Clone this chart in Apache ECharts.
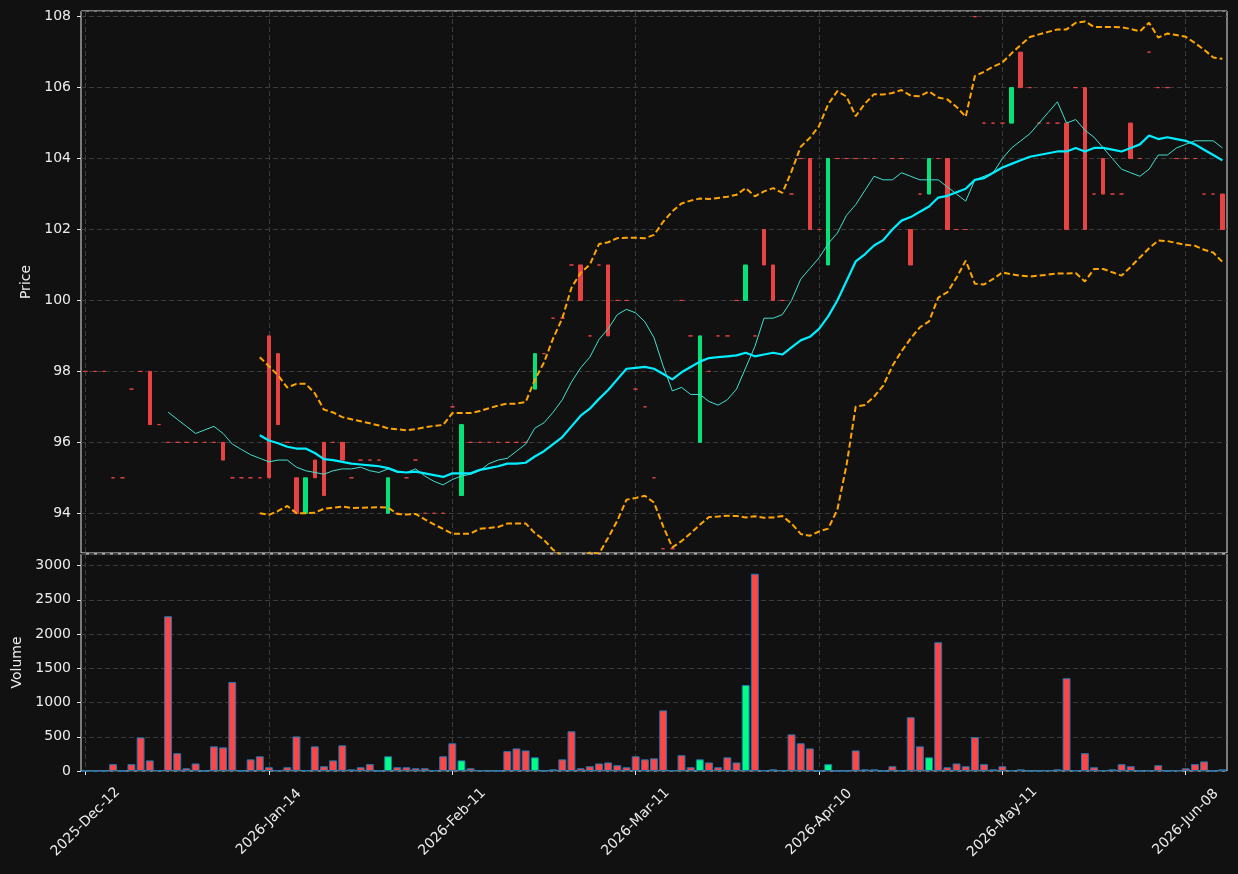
<!DOCTYPE html>
<html lang="en">
<head>
<meta charset="UTF-8">
<title>Price / Volume</title>
<script src="https://cdn.jsdelivr.net/npm/echarts@6.0.0/dist/echarts.min.js"></script>
<style>
  html, body { margin: 0; padding: 0; background: #111111; }
  #main { width: 1238px; height: 874px; }
</style>
</head>
<body>
<div id="main"></div>
<script>
// trading days (one per candle)
var dates = [
  '2025-Dec-12','2025-Dec-15','2025-Dec-16','2025-Dec-17','2025-Dec-18','2025-Dec-19','2025-Dec-22','2025-Dec-23','2025-Dec-24','2025-Dec-29',
  '2025-Dec-30','2025-Dec-31','2026-Jan-02','2026-Jan-05','2026-Jan-06','2026-Jan-07','2026-Jan-08','2026-Jan-09','2026-Jan-12','2026-Jan-13',
  '2026-Jan-14','2026-Jan-15','2026-Jan-16','2026-Jan-19','2026-Jan-20','2026-Jan-21','2026-Jan-22','2026-Jan-23','2026-Jan-26','2026-Jan-27',
  '2026-Jan-28','2026-Jan-29','2026-Jan-30','2026-Feb-02','2026-Feb-03','2026-Feb-04','2026-Feb-05','2026-Feb-06','2026-Feb-09','2026-Feb-10',
  '2026-Feb-11','2026-Feb-12','2026-Feb-13','2026-Feb-16','2026-Feb-17','2026-Feb-18','2026-Feb-19','2026-Feb-20','2026-Feb-23','2026-Feb-24',
  '2026-Feb-25','2026-Feb-26','2026-Feb-27','2026-Mar-02','2026-Mar-03','2026-Mar-04','2026-Mar-05','2026-Mar-06','2026-Mar-09','2026-Mar-10',
  '2026-Mar-11','2026-Mar-12','2026-Mar-13','2026-Mar-16','2026-Mar-17','2026-Mar-18','2026-Mar-19','2026-Mar-20','2026-Mar-23','2026-Mar-24',
  '2026-Mar-25','2026-Mar-26','2026-Mar-27','2026-Mar-30','2026-Mar-31','2026-Apr-01','2026-Apr-02','2026-Apr-07','2026-Apr-08','2026-Apr-09',
  '2026-Apr-10','2026-Apr-13','2026-Apr-14','2026-Apr-15','2026-Apr-16','2026-Apr-17','2026-Apr-20','2026-Apr-21','2026-Apr-22','2026-Apr-23',
  '2026-Apr-24','2026-Apr-27','2026-Apr-28','2026-Apr-29','2026-Apr-30','2026-May-04','2026-May-05','2026-May-06','2026-May-07','2026-May-08',
  '2026-May-11','2026-May-12','2026-May-13','2026-May-14','2026-May-15','2026-May-18','2026-May-19','2026-May-20','2026-May-21','2026-May-22',
  '2026-May-25','2026-May-26','2026-May-27','2026-May-28','2026-May-29','2026-Jun-01','2026-Jun-02','2026-Jun-03','2026-Jun-04','2026-Jun-05',
  '2026-Jun-08','2026-Jun-09','2026-Jun-10','2026-Jun-11','2026-Jun-12'
];

var opens = [
  98, 98, 98, 95, 95, 97.5, 98, 98, 96.5, 96,
  96, 96, 96, 96, 96, 96, 95, 95, 95, 95,
  99, 98.5, 96, 95, 94, 95.5, 96, 96, 96, 95,
  95.5, 95.5, 95.5, 94, 94, 95, 95.5, 94, 94, 94,
  97, 94.5, 96, 96, 96, 96, 96, 96, 96, 97.5,
  98.5, 99.5, 99.5, 101, 101, 99, 101, 101, 100, 100,
  97.5, 97, 95, 93, 93, 100, 99, 96, 98, 99,
  99, 100, 100, 99, 102, 101, 100, 103, 104, 104,
  102, 101, 104, 104, 104, 104, 104, 102, 104, 104,
  102, 103, 103, 104, 104, 102, 102, 108, 105, 105,
  105, 105, 107, 106, 105, 105, 105, 105, 106, 106,
  103, 104, 103, 103, 105, 104, 107, 106, 106, 104,
  104, 104, 103, 103, 103
];

var closes = [
  98, 98, 98, 95, 95, 97.5, 98, 96.5, 96.5, 96,
  96, 96, 96, 96, 96, 95.5, 95, 95, 95, 95,
  95, 96.5, 96, 94, 95, 95, 94.5, 96, 95.5, 95,
  95.5, 95.5, 95.5, 95, 94, 95, 95.5, 94, 94, 94,
  97, 96.5, 96, 96, 96, 96, 96, 96, 96, 98.5,
  98.5, 99.5, 99.5, 101, 100, 99, 101, 99, 100, 100,
  97.5, 97, 95, 93, 93, 100, 99, 99, 98, 99,
  99, 100, 101, 99, 101, 100, 100, 103, 104, 102,
  102, 104, 104, 104, 104, 104, 104, 102, 104, 104,
  101, 103, 104, 104, 102, 102, 102, 108, 105, 105,
  105, 106, 106, 106, 105, 105, 105, 102, 106, 102,
  103, 103, 103, 103, 104, 104, 107, 106, 106, 104,
  104, 104, 103, 103, 102
];

var volumes = [
  0, 0, 0, 100, 0, 100, 490, 155, 10, 2260,
  260, 40, 110, 0, 360, 345, 1300, 0, 170, 215,
  55, 10, 55, 505, 10, 360, 70, 155, 375, 25,
  55, 100, 0, 215, 55, 55, 40, 40, 10, 215,
  405, 155, 40, 10, 0, 0, 290, 330, 300, 200,
  0, 25, 170, 580, 40, 70, 110, 125, 85, 55,
  215, 170, 185, 885, 10, 230, 55, 170, 125, 55,
  200, 125, 1255, 2880, 10, 25, 10, 535, 405, 330,
  0, 100, 0, 0, 300, 25, 25, 0, 70, 10,
  785, 360, 200, 1880, 55, 110, 70, 495, 100, 25,
  70, 10, 25, 0, 0, 10, 25, 1355, 10, 260,
  55, 10, 25, 100, 70, 0, 10, 85, 0, 10,
  40, 100, 140, 0, 25
];

// 10-day average of the closes
var ma10 = [
  null, null, null, null, null, null, null, null, null, 96.85,
  96.65, 96.45, 96.25, 96.35, 96.45, 96.25, 95.95, 95.8, 95.65, 95.55,
  95.45, 95.5, 95.5, 95.3, 95.2, 95.15, 95.1, 95.2, 95.25, 95.25,
  95.3, 95.2, 95.15, 95.25, 95.15, 95.15, 95.25, 95.05, 94.9, 94.8,
  94.95, 95.05, 95.1, 95.2, 95.4, 95.5, 95.55, 95.75, 95.95, 96.4,
  96.55, 96.85, 97.2, 97.7, 98.1, 98.4, 98.9, 99.2, 99.6, 99.75,
  99.65, 99.4, 98.95, 98.15, 97.45, 97.55, 97.35, 97.35, 97.15, 97.05,
  97.2, 97.5, 98.1, 98.7, 99.5, 99.5, 99.6, 100.0, 100.6, 100.9,
  101.2, 101.6, 101.9, 102.4, 102.7, 103.1, 103.5, 103.4, 103.4, 103.6,
  103.5, 103.4, 103.4, 103.4, 103.2, 103.0, 102.8, 103.4, 103.5, 103.6,
  104.0, 104.3, 104.5, 104.7, 105.0, 105.3, 105.6, 105.0, 105.1, 104.8,
  104.6, 104.3, 104.0, 103.7, 103.6, 103.5, 103.7, 104.1, 104.1, 104.3,
  104.4, 104.5, 104.5, 104.5, 104.3
];

// 20-day average of the closes
var ma20 = [
  null, null, null, null, null, null, null, null, null, null,
  null, null, null, null, null, null, null, null, null, 96.2,
  96.05, 95.975, 95.875, 95.825, 95.825, 95.7, 95.525, 95.5, 95.45, 95.4,
  95.375, 95.35, 95.325, 95.275, 95.175, 95.15, 95.175, 95.125, 95.075, 95.025,
  95.125, 95.125, 95.125, 95.225, 95.275, 95.325, 95.4, 95.4, 95.425, 95.6,
  95.75, 95.95, 96.15, 96.45, 96.75, 96.95, 97.225, 97.475, 97.775, 98.075,
  98.1, 98.125, 98.075, 97.925, 97.775, 97.975, 98.125, 98.275, 98.375, 98.4,
  98.425, 98.45, 98.525, 98.425, 98.475, 98.525, 98.475, 98.675, 98.875, 98.975,
  99.2, 99.55, 100.0, 100.55, 101.1, 101.3, 101.55, 101.7, 102.0, 102.25,
  102.35, 102.5, 102.65, 102.9, 102.95, 103.05, 103.15, 103.4, 103.45, 103.6,
  103.75, 103.85, 103.95, 104.05, 104.1, 104.15, 104.2, 104.2, 104.3, 104.2,
  104.3, 104.3, 104.25, 104.2, 104.3, 104.4, 104.65, 104.55, 104.6, 104.55,
  104.5, 104.4, 104.25, 104.1, 103.95
];

// 20-day bands, two standard deviations
var bbUpper = [
  null, null, null, null, null, null, null, null, null, null,
  null, null, null, null, null, null, null, null, null, 98.4,
  98.145, 97.885, 97.545, 97.649, 97.649, 97.385, 96.921, 96.842, 96.711, 96.649,
  96.595, 96.537, 96.477, 96.392, 96.37, 96.337, 96.37, 96.424, 96.463, 96.49,
  96.824, 96.824, 96.824, 96.883, 96.962, 97.036, 97.091, 97.091, 97.136, 97.759,
  98.25, 98.932, 99.498, 100.36, 100.781, 101.011, 101.589, 101.64, 101.756, 101.767,
  101.769, 101.756, 101.847, 102.218, 102.513, 102.734, 102.814, 102.874, 102.857, 102.89,
  102.922, 102.977, 103.167, 102.934, 103.074, 103.167, 103.03, 103.638, 104.333, 104.583,
  104.913, 105.533, 105.899, 105.745, 105.194, 105.547, 105.815, 105.804, 105.847, 105.931,
  105.772, 105.756, 105.892, 105.721, 105.668, 105.456, 105.177, 106.326, 106.448, 106.593,
  106.708, 106.966, 107.204, 107.425, 107.5, 107.572, 107.641, 107.641, 107.827, 107.866,
  107.712, 107.712, 107.707, 107.699, 107.653, 107.587, 107.83, 107.412, 107.526, 107.481,
  107.433, 107.257, 107.07, 106.85, 106.812
];

var bbLower = [
  null, null, null, null, null, null, null, null, null, null,
  null, null, null, null, null, null, null, null, null, 94.0,
  93.955, 94.065, 94.205, 94.001, 94.001, 94.015, 94.129, 94.158, 94.189, 94.151,
  94.155, 94.163, 94.173, 94.158, 93.98, 93.963, 93.98, 93.826, 93.687, 93.56,
  93.426, 93.426, 93.426, 93.567, 93.588, 93.614, 93.709, 93.709, 93.714, 93.441,
  93.25, 92.968, 92.802, 92.54, 92.719, 92.889, 92.861, 93.31, 93.794, 94.383,
  94.431, 94.494, 94.303, 93.632, 93.037, 93.216, 93.436, 93.676, 93.893, 93.91,
  93.928, 93.923, 93.883, 93.916, 93.876, 93.883, 93.92, 93.712, 93.417, 93.367,
  93.487, 93.567, 94.101, 95.355, 97.006, 97.053, 97.285, 97.596, 98.153, 98.569,
  98.928, 99.244, 99.408, 100.079, 100.232, 100.644, 101.123, 100.474, 100.452, 100.607,
  100.792, 100.734, 100.696, 100.675, 100.7, 100.728, 100.759, 100.759, 100.773, 100.534,
  100.888, 100.888, 100.793, 100.701, 100.947, 101.213, 101.47, 101.688, 101.674, 101.619,
  101.567, 101.543, 101.43, 101.35, 101.088
];

var upCandle = '#05e27a', downCandle = '#e84343';
var upVol = '#00ff7f', downVol = '#ff4646';
var txt = '#ececec', gridCol = '#3c3c3c', frame = '#e6e6e6';

// candle data: [open, close, low, high]; no wicks, so low/high are the body ends
var candleData = opens.map(function (o, i) {
  var c = closes[i];
  var col = o < c ? upCandle : downCandle;
  return {
    value: [o, c, Math.min(o, c), Math.max(o, c)],
    itemStyle: { color: col, color0: col, borderColor: col, borderColor0: col, borderColorDoji: col }
  };
});

var volData = volumes.map(function (v, i) {
  return { value: v, itemStyle: { color: opens[i] < closes[i] ? upVol : downVol } };
});

function gaps(arr) {
  return arr.map(function (v) { return v === null ? '-' : v; });
}

var dashLine = { color: gridCol, width: 1, type: [5, 3] };

var myChart = echarts.init(document.getElementById('main'));
var option = {
  backgroundColor: '#111111',
  animation: false,
  textStyle: { fontFamily: 'DejaVu Sans' },
  grid: [
    { left: 81, top: 11, width: 1146, height: 542, show: true, borderColor: frame, borderWidth: 1 },
    { left: 81, top: 554, width: 1146, height: 217, show: true, borderColor: frame, borderWidth: 1 }
  ],
  xAxis: [
    {
      type: 'category', gridIndex: 0, data: dates, boundaryGap: true,
      axisLine: { show: false }, axisTick: { show: false }, axisLabel: { show: false },
      splitLine: { show: true, interval: 19, alignWithLabel: true, lineStyle: dashLine }
    },
    {
      type: 'category', gridIndex: 1, data: dates, boundaryGap: true,
      axisLine: { show: false },
      axisTick: { show: true, interval: 19, alignWithLabel: true, length: 4, lineStyle: { color: frame } },
      axisLabel: {
        interval: 19, rotate: 45, align: 'center', verticalAlign: 'middle', margin: 51,
        color: txt, fontSize: 14
      },
      splitLine: { show: true, interval: 19, alignWithLabel: true, lineStyle: dashLine }
    }
  ],
  yAxis: [
    {
      type: 'value', gridIndex: 0, min: 92.88, max: 108.16, splitNumber: 7,
      name: 'Price', nameLocation: 'middle', nameGap: 47,
      nameTextStyle: { color: txt, fontSize: 14 },
      axisLine: { show: false },
      axisTick: { show: true, length: 4, lineStyle: { color: frame } },
      axisLabel: { color: txt, fontSize: 14, margin: 10, showMinLabel: false, showMaxLabel: false },
      splitLine: { show: true, lineStyle: dashLine }
    },
    {
      type: 'value', gridIndex: 1, min: 0, max: 3168, interval: 500,
      name: 'Volume', nameLocation: 'middle', nameGap: 57,
      nameTextStyle: { color: txt, fontSize: 14 },
      axisLine: { show: false },
      axisTick: { show: true, length: 4, lineStyle: { color: frame } },
      axisLabel: {
        color: txt, fontSize: 14, margin: 10, showMaxLabel: false,
        formatter: function (v) { return String(v); }
      },
      splitLine: { show: true, lineStyle: dashLine }
    }
  ],
  series: [
    {
      type: 'candlestick', xAxisIndex: 0, yAxisIndex: 0, data: candleData,
      barWidth: 4, itemStyle: { borderWidth: 1 }
    },
    {
      type: 'line', xAxisIndex: 0, yAxisIndex: 0, data: gaps(ma10), symbol: 'none',
      lineStyle: { color: '#40e0d0', width: 1 }
    },
    {
      type: 'line', xAxisIndex: 0, yAxisIndex: 0, data: gaps(ma20), symbol: 'none',
      lineStyle: { color: '#00eeff', width: 2.2 }
    },
    {
      type: 'line', xAxisIndex: 0, yAxisIndex: 0, data: gaps(bbUpper), symbol: 'none',
      lineStyle: { color: '#ffa500', width: 2, type: [6, 3] }
    },
    {
      type: 'line', xAxisIndex: 0, yAxisIndex: 0, data: gaps(bbLower), symbol: 'none',
      lineStyle: { color: '#ffa500', width: 2, type: [6, 3] }
    },
    {
      type: 'bar', xAxisIndex: 1, yAxisIndex: 1, data: volData, barWidth: '86%',
      itemStyle: { borderColor: '#1f77b4', borderWidth: 1 }
    }
  ]
};
myChart.setOption(option);
</script>
</body>
</html>
